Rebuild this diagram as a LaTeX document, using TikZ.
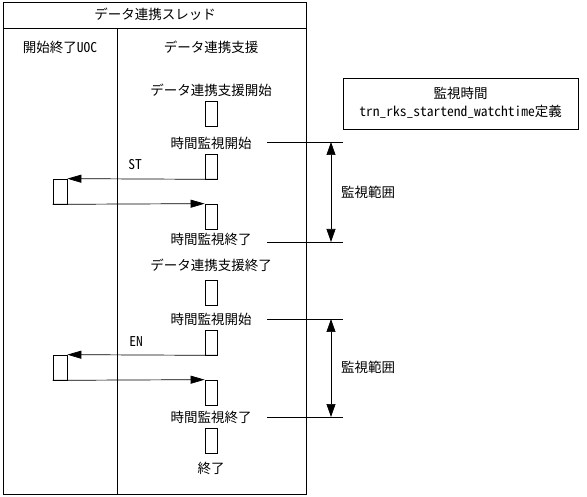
\documentclass[tikz,border=0pt]{standalone}
\usepackage{fontspec}
\setmainfont{Noto Sans CJK JP}[RawFeature=+hwid]
\usepackage{tikz}
\usetikzlibrary{arrows.meta}

\begin{document}
\begin{tikzpicture}[x=1pt,y=-1pt,
    txt/.style={inner sep=0pt,font=\fontsize{13.5}{16}\selectfont},
    act/.style={draw,inner sep=0pt,minimum width=12pt,minimum height=25pt},
    uoc/.style={draw,inner sep=0pt,minimum width=14pt,minimum height=25pt},
    msg/.style={-{Triangle[length=14pt,width=8pt]}},
    rng/.style={{Triangle[length=13pt,width=9pt]}-{Triangle[length=13pt,width=9pt]}},
    line width=0.7pt]
    \useasboundingbox (0,0) rectangle (587,497);
    \draw (3,2) rectangle (306,494);
    \draw (3,28) -- (306,28);
    \draw (117,28) -- (117,494);
    \node[txt] (title) at (155,14) {データ連携スレッド};
    \node[txt] (uochead) at (60,47) {開始終了UOC};
    \node[txt] (suphead) at (211,47) {データ連携支援};

    \node[txt] (t1) at (211,90) {データ連携支援開始};
    \node[act] (b1) at (211,113.5) {};
    \node[txt] (t2) at (211,143) {時間監視開始};
    \node[act] (b2) at (211,166.5) {};
    \node[uoc] (u1) at (60,191.5) {};
    \node[act] (b3) at (211,216.5) {};
    \node[txt] (t3) at (211,239) {時間監視終了};
    \node[txt] (t4) at (211,265) {データ連携支援終了};
    \node[act] (b4) at (211,292.5) {};
    \node[txt] (t5) at (211,319) {時間監視開始};
    \node[act] (b5) at (211,342.5) {};
    \node[uoc] (u2) at (60,367.5) {};
    \node[act] (b6) at (211,392.5) {};
    \node[txt] (t6) at (211,417) {時間監視終了};
    \node[act] (b7) at (211,441) {};
    \node[txt] (t7) at (211,468) {終了};

    \draw[msg] (b2.south east) -- (u1.north east);
    \draw[msg] (u1.south west) -- (b3.north west);
    \node[txt] (st) at (135,165) {ST};
    \draw[msg] (b5.south east) -- (u2.north east);
    \draw[msg] (u2.south west) -- (b6.north west);
    \node[txt] (en) at (136,342) {EN};

    \coordinate (s1a) at (267,142);
    \coordinate (s1b) at (343,142);
    \coordinate (e1a) at (267,242);
    \coordinate (e1b) at (343,242);
    \coordinate (s2a) at (267,319);
    \coordinate (s2b) at (343,319);
    \coordinate (e2a) at (267,417);
    \coordinate (e2b) at (343,417);
    \draw (s1a) -- (s1b);
    \draw (e1a) -- (e1b);
    \draw (s2a) -- (s2b);
    \draw (e2a) -- (e2b);
    \coordinate (r1a) at (331,142);
    \coordinate (r1b) at (331,242);
    \coordinate (r2a) at (331,319);
    \coordinate (r2b) at (331,417);
    \draw[rng] (r1a) -- (r1b);
    \draw[rng] (r2a) -- (r2b);
    \node[txt] (rl1) at (368,192) {監視範囲};
    \node[txt] (rl2) at (368,367) {監視範囲};

    \node[draw,minimum width=235pt,minimum height=51pt,inner sep=0pt] (note) at (460.5,103.5) {};
    \node[txt] (note1) at (460.5,93) {監視時間};
    \node[txt] (note2) at (460.5,112) {trn\_rks\_startend\_watchtime定義};
\end{tikzpicture}
\end{document}
